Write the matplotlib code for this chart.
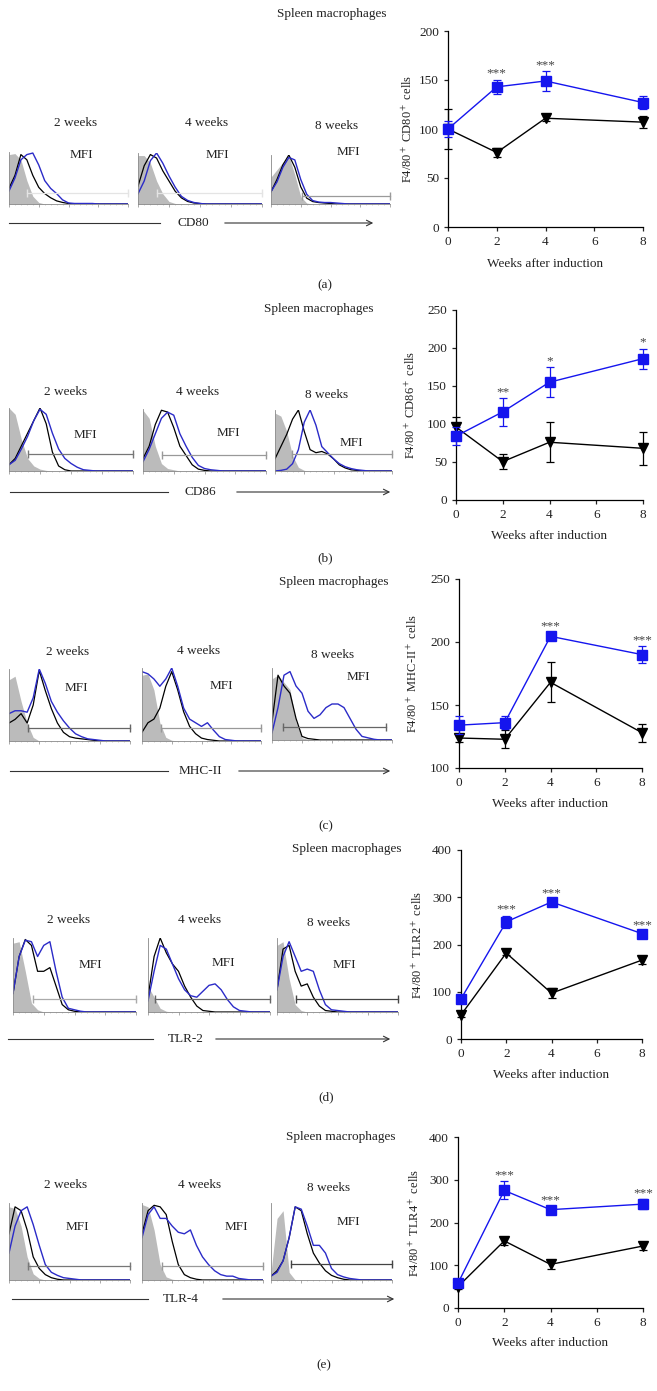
import numpy as np
import matplotlib.pyplot as plt
from matplotlib.ticker import MultipleLocator

plt.rcParams['font.family'] = ['Liberation Serif', 'DejaVu Serif']
plt.rcParams['mathtext.fontset'] = 'stix'

W, H = 657, 1391
BLUE = '#1515ee'
HBLUE = '#2b2bc8'
GREY = '#bbbbbb'
TXT = '#222222'

# ── Data ──────────────────────────────────────────────────────────────────────
WEEKS = [0, 2, 4, 8]
HIST_TIMES = ["2 weeks", "4 weeks", "8 weeks"]
N_GRID = 21  # histogram heights are read every 5% of the axis width

MARKERS = ["CD80", "CD86", "MHC-II", "TLR-2", "TLR-4"]
YLABELS = ["F4/80$^+$ CD80$^+$ cells", "F4/80$^+$ CD86$^+$ cells",
           "F4/80$^+$ MHC-II$^+$ cells", "F4/80$^+$ TLR2$^+$ cells",
           "F4/80$^+$ TLR4$^+$ cells"]
LETTERS = ["(a)", "(b)", "(c)", "(d)", "(e)"]

# histogram heights (fraction of peak), one list per time point
CD80_ISO = [[0.95, 0.97, 0.85, 0.45, 0.15, 0.03],
            [0.95, 0.95, 0.8, 0.45, 0.2, 0.05, 0.01],
            [0.55, 0.7, 0.85, 0.98, 0.6, 0.15, 0.02]]
CD80_CTRL = [[0.3, 0.55, 0.95, 0.85, 0.55, 0.32, 0.2, 0.12, 0.06, 0.03, 0.01],
             [0.35, 0.75, 0.97, 0.9, 0.65, 0.45, 0.25, 0.12, 0.05, 0.02, 0.01],
             [0.25, 0.5, 0.8, 1.0, 0.75, 0.35, 0.12, 0.05, 0.03, 0.02, 0.01]]
CD80_TREAT = [[0.25, 0.5, 0.85, 0.95, 0.98, 0.75, 0.45, 0.3, 0.2, 0.08, 0.02, 0.01, 0.01, 0.01, 0.01],
              [0.2, 0.45, 0.85, 1.0, 0.8, 0.55, 0.33, 0.15, 0.07, 0.03, 0.01],
              [0.25, 0.45, 0.75, 0.95, 0.9, 0.5, 0.2, 0.07, 0.04, 0.03, 0.03, 0.02, 0.01]]

CD86_ISO = [[1.0, 0.9, 0.5, 0.2, 0.08, 0.03, 0.01],
            [0.98, 0.85, 0.4, 0.12, 0.04, 0.02],
            [0.95, 0.9, 0.65, 0.25, 0.06, 0.01]]
CD86_CTRL = [[0.1, 0.2, 0.4, 0.6, 0.8, 1.0, 0.75, 0.3, 0.08, 0.02],
             [0.2, 0.4, 0.75, 0.98, 0.95, 0.7, 0.4, 0.25, 0.1, 0.03, 0.01],
             [0.2, 0.4, 0.6, 0.85, 1.0, 0.65, 0.35, 0.3, 0.32, 0.28, 0.2, 0.1, 0.05, 0.02, 0.01]]
CD86_TREAT = [[0.1, 0.17, 0.35, 0.55, 0.8, 0.98, 0.9, 0.6, 0.35, 0.2, 0.12, 0.06, 0.02, 0.01],
              [0.15, 0.35, 0.6, 0.85, 0.95, 0.9, 0.6, 0.4, 0.22, 0.09, 0.04, 0.02, 0.01],
              [0.0, 0.01, 0.03, 0.12, 0.35, 0.8, 1.0, 0.75, 0.4, 0.3, 0.2, 0.12, 0.07, 0.04, 0.02, 0.01]]

MHC_ISO = [[0.85, 0.9, 0.55, 0.25, 0.05],
           [0.9, 0.92, 0.7, 0.25, 0.05, 0.01],
           [0.85, 0.9, 0.8, 0.7, 0.25, 0.03, 0.01]]
MHC_CTRL = [[0.25, 0.3, 0.38, 0.25, 0.5, 0.98, 0.7, 0.45, 0.25, 0.12, 0.06, 0.04, 0.03, 0.02, 0.01],
            [0.12, 0.25, 0.3, 0.45, 0.75, 0.95, 0.7, 0.4, 0.2, 0.1, 0.04, 0.02, 0.01],
            [0.25, 0.9, 0.75, 0.65, 0.3, 0.05, 0.02, 0.01]]
MHC_TREAT = [[0.38, 0.42, 0.42, 0.4, 0.6, 1.0, 0.8, 0.55, 0.4, 0.28, 0.18, 0.1, 0.06, 0.03, 0.02, 0.01],
             [0.95, 0.92, 0.85, 0.75, 0.85, 1.0, 0.75, 0.45, 0.3, 0.25, 0.2, 0.25, 0.15, 0.06, 0.02, 0.01],
             [0.1, 0.45, 0.9, 0.95, 0.75, 0.65, 0.4, 0.3, 0.35, 0.45, 0.5, 0.5, 0.45, 0.3, 0.15, 0.05, 0.03, 0.01]]

TLR2_ISO = [[0.93, 0.95, 0.55, 0.12, 0.03],
            [0.35, 0.2, 0.05, 0.01],
            [0.9, 0.95, 0.45, 0.1, 0.02]]
TLR2_CTRL = [[0.25, 0.75, 0.98, 0.9, 0.55, 0.55, 0.6, 0.35, 0.1, 0.03, 0.01],
             [0.2, 0.75, 1.0, 0.8, 0.65, 0.55, 0.35, 0.2, 0.08, 0.02, 0.01],
             [0.3, 0.85, 0.9, 0.55, 0.35, 0.38, 0.2, 0.08, 0.02, 0.01]]
TLR2_TREAT = [[0.25, 0.75, 0.97, 0.95, 0.75, 0.9, 0.95, 0.55, 0.2, 0.05, 0.03, 0.01],
              [0.15, 0.55, 0.9, 0.85, 0.65, 0.45, 0.3, 0.22, 0.2, 0.28, 0.36, 0.38, 0.3, 0.17, 0.07, 0.02, 0.01],
              [0.3, 0.75, 0.95, 0.75, 0.55, 0.58, 0.55, 0.3, 0.1, 0.03, 0.02, 0.01]]

TLR4_ISO = [[0.95, 0.93, 0.7, 0.3, 0.08, 0.02],
            [0.98, 0.95, 0.65, 0.2, 0.04, 0.01],
            [0.1, 0.8, 0.9, 0.1]]
TLR4_CTRL = [[0.6, 0.95, 0.9, 0.65, 0.3, 0.15, 0.07, 0.03, 0.01],
             [0.6, 0.9, 0.97, 0.95, 0.85, 0.5, 0.2, 0.07, 0.03, 0.01],
             [0.05, 0.12, 0.25, 0.55, 0.95, 0.9, 0.6, 0.35, 0.22, 0.12, 0.06, 0.03, 0.01]]
TLR4_TREAT = [[0.35, 0.7, 0.9, 0.95, 0.72, 0.45, 0.2, 0.1, 0.06, 0.03, 0.02, 0.01],
              [0.55, 0.85, 0.95, 0.8, 0.8, 0.7, 0.62, 0.6, 0.65, 0.45, 0.3, 0.2, 0.12, 0.07, 0.05, 0.05, 0.02, 0.01],
              [0.05, 0.1, 0.25, 0.55, 0.95, 0.92, 0.7, 0.45, 0.45, 0.35, 0.15, 0.07, 0.04, 0.02, 0.01]]

# MFI gates: (start, end, level)
CD80_GATES = [(0.15, 1.0, 0.21), (0.15, 1.0, 0.21), (0.26, 1.0, 0.17)]
CD86_GATES = [(0.15, 1.0, 0.265), (0.155, 1.0, 0.26), (0.145, 1.0, 0.28)]
MHC_GATES = [(0.157, 1.0, 0.185), (0.16, 1.0, 0.18), (0.09, 0.95, 0.185)]
TLR2_GATES = [(0.16, 1.0, 0.175), (0.06, 1.0, 0.18), (0.157, 1.0, 0.18)]
TLR4_GATES = [(0.157, 1.0, 0.18), (0.165, 1.0, 0.18), (0.165, 1.0, 0.21)]

# time courses (blue squares vs black triangles), mean and error
CD80_BLUE = [100, 143, 149, 127]
CD80_BLUE_ERR = [8, 7.5, 10, 7]
CD80_BLACK = [100, 76, 111, 107]
CD80_BLACK_ERR = [20, 5, 3, 6]
CD80_STARS = ["", "***", "***", ""]

CD86_BLUE = [84, 116, 155, 186]
CD86_BLUE_ERR = [12, 18, 20, 13]
CD86_BLACK = [96, 50.5, 76, 68]
CD86_BLACK_ERR = [13, 10, 26, 22]
CD86_STARS = ["", "**", "*", "*"]

MHC_BLUE = [134, 136, 204.5, 190]
MHC_BLUE_ERR = [7, 5, 3, 6.5]
MHC_BLACK = [123.8, 122.8, 168, 128]
MHC_BLACK_ERR = [3, 7, 16, 7]
MHC_STARS = ["", "", "***", "***"]

TLR2_BLUE = [85, 248, 290, 223]
TLR2_BLUE_ERR = [8, 13, 5, 5]
TLR2_BLACK = [51, 182, 97, 167]
TLR2_BLACK_ERR = [5, 5, 10, 8]
TLR2_STARS = ["", "***", "***", "***"]

TLR4_BLUE = [58, 275, 230, 243]
TLR4_BLUE_ERR = [6, 21, 8, 12]
TLR4_BLACK = [50, 157, 102, 145]
TLR4_BLACK_ERR = [5, 10, 10, 10]
TLR4_STARS = ["", "***", "***", "***"]

YTICKS = [[0, 50, 100, 150, 200], [0, 50, 100, 150, 200, 250],
          [100, 150, 200, 250], [0, 100, 200, 300, 400], [0, 100, 200, 300, 400]]

HIST = [(CD80_ISO, CD80_CTRL, CD80_TREAT, CD80_GATES),
        (CD86_ISO, CD86_CTRL, CD86_TREAT, CD86_GATES),
        (MHC_ISO, MHC_CTRL, MHC_TREAT, MHC_GATES),
        (TLR2_ISO, TLR2_CTRL, TLR2_TREAT, TLR2_GATES),
        (TLR4_ISO, TLR4_CTRL, TLR4_TREAT, TLR4_GATES)]
LINES = [(CD80_BLUE, CD80_BLUE_ERR, CD80_BLACK, CD80_BLACK_ERR, CD80_STARS),
         (CD86_BLUE, CD86_BLUE_ERR, CD86_BLACK, CD86_BLACK_ERR, CD86_STARS),
         (MHC_BLUE, MHC_BLUE_ERR, MHC_BLACK, MHC_BLACK_ERR, MHC_STARS),
         (TLR2_BLUE, TLR2_BLUE_ERR, TLR2_BLACK, TLR2_BLACK_ERR, TLR2_STARS),
         (TLR4_BLUE, TLR4_BLUE_ERR, TLR4_BLACK, TLR4_BLACK_ERR, TLR4_STARS)]

# ── Layout (pixel positions) ──────────────────────────────────────────────────
LAYOUT = [
    dict(hist=[(9, 128, 152, 204), (138, 262, 153, 204), (271, 390, 155, 204)],
         times=[(76, 123), (207, 123), (337, 126)],
         mfi=[(81, 155), (217, 155), (348, 152)],
         arrow=(223, 9, 160, 193, 222, 376),
         chart=(448, 643, 31, 227), ylab_x=408, xlab_y=264,
         letter=(325, 285), title=(332, 14),
         gate_col=['#e4e4e4', '#e4e4e4', '#9a9a9a']),
    dict(hist=[(9, 133, 408, 471), (143, 266, 409, 471), (275, 392, 410, 471)],
         times=[(66, 392), (198, 392), (327, 395)],
         mfi=[(85, 435), (228, 433), (351, 443)],
         arrow=(492, 10, 168, 200, 234, 393),
         chart=(456, 643, 310, 500), ylab_x=411, xlab_y=536,
         letter=(325, 558), title=(319, 309),
         gate_col=['#777777', '#999999', '#999999']),
    dict(hist=[(9, 130, 669, 741), (142, 261, 668, 741), (272, 392, 668, 740)],
         times=[(68, 652), (199, 651), (333, 655)],
         mfi=[(76, 688), (221, 686), (358, 677)],
         arrow=(771, 10, 168, 200, 236, 393),
         chart=(459, 642, 579, 768), ylab_x=413, xlab_y=804,
         letter=(326, 826), title=(334, 582),
         gate_col=['#666666', '#999999', '#666666']),
    dict(hist=[(13, 136, 938, 1012), (148, 270, 938, 1012), (277, 398, 938, 1012)],
         times=[(69, 920), (200, 920), (329, 923)],
         mfi=[(90, 965), (223, 963), (344, 965)],
         arrow=(1039, 8, 153, 186, 213, 393),
         chart=(461, 642, 850, 1039), ylab_x=418, xlab_y=1075,
         letter=(326, 1097), title=(347, 849),
         gate_col=['#aaaaaa', '#666666', '#444444']),
    dict(hist=[(9, 130, 1203, 1280), (142, 263, 1203, 1280), (271, 392, 1203, 1280)],
         times=[(66, 1185), (200, 1185), (329, 1188)],
         mfi=[(77, 1227), (236, 1227), (348, 1222)],
         arrow=(1299, 12, 148, 181, 220, 397),
         chart=(458, 643, 1137, 1308), ylab_x=415, xlab_y=1343,
         letter=(324, 1365), title=(341, 1137),
         gate_col=['#777777', '#999999', '#444444']),
]

fig = plt.figure(figsize=(W / 100, H / 100), dpi=100)
bg = fig.add_axes([0, 0, 1, 1])
bg.set_xlim(0, W)
bg.set_ylim(H, 0)
bg.axis('off')


def px_axes(l, r, t, b):
    return fig.add_axes([l / W, 1 - b / H, (r - l) / W, (b - t) / H])


def pad(vals):
    return np.array(list(vals) + [0.0] * (N_GRID - len(vals)))


xg = np.linspace(0, 1, N_GRID)
FS = 9.5

for p, lay in enumerate(LAYOUT):
    iso_l, ctrl_l, treat_l, gates = HIST[p]

    # ── flow histograms ──
    for k in range(3):
        ax = px_axes(*lay['hist'][k])
        ax.fill_between(xg, pad(iso_l[k]), color=GREY, lw=0)
        ax.plot(xg, pad(ctrl_l[k]), color='black', lw=0.9)
        ax.plot(xg, pad(treat_l[k]), color=HBLUE, lw=1.0)
        g0, g1, gy = gates[k]
        ax.plot([g0, g1], [gy, gy], color=lay['gate_col'][k], lw=0.9,
                marker='|', ms=6, clip_on=False)
        ax.set_xlim(0, 1)
        ax.set_ylim(0, 1.0)
        for s in ['top', 'right']:
            ax.spines[s].set_visible(False)
        for s in ['left', 'bottom']:
            ax.spines[s].set_color('#888888')
            ax.spines[s].set_linewidth(0.6)
        ax.xaxis.set_major_locator(MultipleLocator(0.25))
        ax.xaxis.set_minor_locator(MultipleLocator(0.05))
        ax.tick_params(axis='x', which='major', length=2, width=0.5, color='#888888', labelbottom=False)
        ax.tick_params(axis='x', which='minor', length=1, width=0.4, color='#aaaaaa')
        ax.tick_params(axis='y', left=False, labelleft=False)
        ax.patch.set_alpha(0)

        tx, ty = lay['times'][k]
        bg.text(tx, ty, HIST_TIMES[k], ha='center', va='center', fontsize=FS, color=TXT)
        mx, my = lay['mfi'][k]
        bg.text(mx, my, "MFI", ha='center', va='center', fontsize=FS, color=TXT)

    # axis arrow under histograms
    ay, l0, l1, tcx, r0, r1 = lay['arrow']
    bg.plot([l0, l1], [ay, ay], color='#333333', lw=0.8)
    bg.annotate("", xy=(r1, ay), xytext=(r0, ay),
                arrowprops=dict(arrowstyle='->', lw=0.8, color='#333333'))
    bg.text(tcx, ay, MARKERS[p], ha='center', va='center', fontsize=FS, color=TXT)

    bg.text(*lay['title'], "Spleen macrophages", ha='center', va='center', fontsize=FS, color=TXT)
    bg.text(*lay['letter'], LETTERS[p], ha='center', va='center', fontsize=FS, color=TXT)

    # ── time course ──
    blue, blue_err, black, black_err, stars = LINES[p]
    cl, cr, ct, cb = lay['chart']
    ax = px_axes(cl, cr, ct, cb)
    ax.errorbar(WEEKS, black, yerr=black_err, fmt='-v', color='black', ms=6.5,
                lw=1, elinewidth=0.9, capsize=3, capthick=0.9, clip_on=False, zorder=3)
    ax.errorbar(WEEKS, blue, yerr=blue_err, fmt='-s', color=BLUE, ms=6.5,
                lw=1, elinewidth=0.9, capsize=3, capthick=0.9, clip_on=False, zorder=4)
    for i, s in enumerate(stars):
        if s:
            ax.annotate(s, (WEEKS[i], blue[i] + blue_err[i]), xytext=(0, 0),
                        textcoords='offset points', ha='center', va='bottom',
                        fontsize=FS, color='#444444')
    yt = YTICKS[p]
    ax.set_xlim(0, 8)
    ax.set_ylim(yt[0], yt[-1])
    ax.set_xticks([0, 2, 4, 6, 8])
    ax.set_yticks(yt)
    for s in ['top', 'right']:
        ax.spines[s].set_visible(False)
    for s in ['left', 'bottom']:
        ax.spines[s].set_linewidth(0.9)
    ax.tick_params(direction='out', length=3, width=0.9, labelsize=FS, colors=TXT)
    ax.patch.set_alpha(0)

    bg.text((cl + cr) / 2, lay['xlab_y'], "Weeks after induction", ha='center',
            va='center', fontsize=FS, color=TXT)
    bg.text(lay['ylab_x'], (ct + cb) / 2, YLABELS[p], ha='center', va='center',
            rotation=90, fontsize=FS - 0.5, color=TXT)

fig.savefig("out.png", dpi=100)
